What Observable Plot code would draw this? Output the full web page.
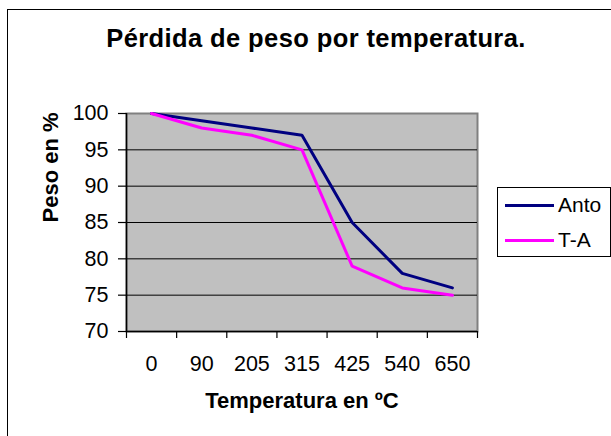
<!DOCTYPE html>
<html>
<head>
<meta charset="utf-8">
<script src="https://cdn.jsdelivr.net/npm/d3@7"></script>
<script src="https://cdn.jsdelivr.net/npm/@observablehq/plot@0.6"></script>
<style>
  html, body { margin: 0; padding: 0; background: #fff; }
  #wrap { position: relative; width: 611px; height: 436px; overflow: hidden; font-family: "Liberation Sans", Arial, sans-serif; }
  #border { position: absolute; left: 7px; top: 9px; width: 640px; height: 460px; border: 1px solid #000; box-sizing: border-box; }
  #title { position: absolute; left: 0; width: 632px; top: 24px; text-align: center; font-weight: bold; font-size: 25.5px; letter-spacing: 0.4px; color: #000; line-height: 29px; }
  #chart { position: absolute; left: 0; top: 0; }
  #legend { position: absolute; left: 497px; top: 187px; width: 114px; height: 70px; border: 1px solid #000; box-sizing: border-box; background: #fff; }
  .item { position: absolute; left: 7px; display: flex; align-items: center; font-size: 21px; line-height: 24px; color: #000; }
  .sw { width: 49px; height: 3px; margin-right: 4px; }
</style>
</head>
<body>
<div id="wrap">
  <div id="border"></div>
  <div id="title">Pérdida de peso por temperatura.</div>
  <div id="chart"></div>
  <div id="legend"></div>
</div>
<script>
const temps = ["0", "90", "205", "315", "425", "540", "650"];
const anto = [100, 99, 98, 97, 85, 78, 76];
const ta = [100, 98, 97, 95, 79, 76, 75];
const seriesNames = ["Anto", "T-A"];
const seriesColors = ["#000080", "#FF00FF"];
const yTicks = [70, 75, 80, 85, 90, 95, 100];
const yLabel = "Peso en %";
const xLabel = "Temperatura en ºC";

const idx = temps.map((_, i) => i);
const xDomain = [-0.5, temps.length - 0.5];
const edges = d3.range(temps.length + 1).map(i => i - 0.5);
const rows = [
  ...anto.map((v, i) => ({series: seriesNames[0], i, v})),
  ...ta.map((v, i) => ({series: seriesNames[1], i, v}))
];
const yMin = yTicks[0], yMax = yTicks[yTicks.length - 1];

const chart = Plot.plot({
  width: 611,
  height: 436,
  marginLeft: 126,
  marginRight: 134,
  marginTop: 113,
  marginBottom: 105,
  style: {fontFamily: "'Liberation Sans', Arial, sans-serif", fontSize: "21px", color: "#000", background: "transparent", overflow: "visible"},
  x: {type: "linear", domain: xDomain},
  y: {domain: [yMin, yMax]},
  color: {domain: seriesNames, range: seriesColors},
  marks: [
    Plot.frame({fill: "#C0C0C0", stroke: "#808080", strokeWidth: 2}),
    Plot.ruleY(yTicks.filter(v => v > yMin && v < yMax), {stroke: "#000", strokeWidth: 1}),
    Plot.ruleX([xDomain[0]], {stroke: "#000", strokeWidth: 1.5}),
    Plot.ruleY([yMin], {stroke: "#000", strokeWidth: 1.5}),
    Plot.axisY({ticks: yTicks, tickSize: 8, tickPadding: 10, label: null, fontSize: 21.5, strokeWidth: 1.2}),
    Plot.axisX({ticks: edges, tickSize: 7, tickFormat: () => "", label: null, strokeWidth: 1.2}),
    Plot.axisX({ticks: idx, tickSize: 0, tickPadding: 24, tickFormat: i => temps[i], label: null, fontSize: 21.5}),
    Plot.lineY(rows, {x: "i", y: "v", z: "series", stroke: "series", strokeWidth: 3, strokeLinejoin: "miter"}),
    Plot.text([yLabel], {frameAnchor: "left", rotate: -90, dx: -76, fontWeight: "bold", fontSize: 22}),
    Plot.text([xLabel], {frameAnchor: "bottom", lineAnchor: "middle", dy: 69, fontWeight: "bold", fontSize: 22})
  ]
});
document.getElementById("chart").appendChild(chart);

const legend = document.getElementById("legend");
seriesNames.forEach((name, k) => {
  const item = document.createElement("div");
  item.className = "item";
  item.style.top = (k === 0 ? 5 : 40) + "px";
  const sw = document.createElement("span");
  sw.className = "sw";
  sw.style.background = seriesColors[k];
  const tx = document.createElement("span");
  tx.textContent = name;
  item.appendChild(sw);
  item.appendChild(tx);
  legend.appendChild(item);
});
</script>
</body>
</html>
